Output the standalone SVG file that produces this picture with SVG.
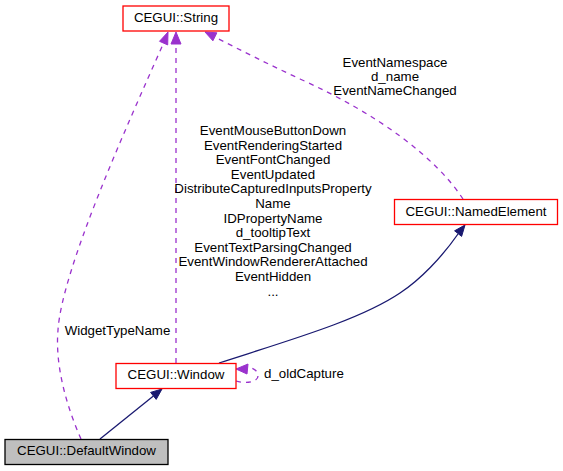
<svg xmlns="http://www.w3.org/2000/svg" width="563" height="471" viewBox="0 0 563 471">
<style>
text{font-family:"Liberation Sans",Arial,Helvetica,sans-serif;font-size:13.3px;fill:#000}
.n rect{fill:#fff;stroke:#ff0000;stroke-width:1.3}
.g rect{fill:#bfbfbf;stroke:#000;stroke-width:1.3}
.d{fill:none;stroke:#9a32cd;stroke-width:1.3;stroke-dasharray:5,5}
.da{fill:#9a32cd;stroke:#9a32cd}
.s{fill:none;stroke:#191970;stroke-width:1.3}
.sa{fill:#191970;stroke:#191970}
.m{text-anchor:middle}
</style>
<rect width="563" height="471" fill="#fff"/>
<g id="connectors">
<path class="s" d="M100,439 L153.4,395.9"/>
<polygon class="sa" points="162,389 156.2,399.4 150.6,392.4"/>
<path class="s" d="M219,363 C290,340 360,320 400,293 C420,280 442,257 458,234"/>
<polygon class="sa" points="465,225 461.6,236.4 454.6,230.8"/>
<path class="d" d="M236,381 C246,384 258,382 258,376 C258,371 254,368 247,367"/>
<polygon class="da" points="236,369 248,364 247,374"/>
<text x="264" y="378">d_oldCapture</text>
<path class="d" d="M176,363 L176,44"/>
<polygon class="da" points="176,32 181,44 171,44"/>
<g class="m">
<text x="273" y="135">EventMouseButtonDown</text>
<text x="273" y="149.6">EventRenderingStarted</text>
<text x="273" y="164.2">EventFontChanged</text>
<text x="273" y="178.8">EventUpdated</text>
<text x="273" y="193.4">DistributeCapturedInputsProperty</text>
<text x="273" y="208">Name</text>
<text x="273" y="222.6">IDPropertyName</text>
<text x="273" y="237.2">d_tooltipText</text>
<text x="273" y="251.8">EventTextParsingChanged</text>
<text x="273" y="266.4">EventWindowRendererAttached</text>
<text x="273" y="281">EventHidden</text>
<text x="273" y="295.6">...</text>
</g>
<path class="d" d="M81,439 C66,405 55,365 58,330 C62,270 125,130 163.6,43"/>
<polygon class="da" points="168,32 167.7,44.9 159.5,41.3"/>
<text x="117.5" y="335" class="m">WidgetTypeName</text>
<path class="d" d="M463,199 C436,158 380,115 300,79 C270,65 240,50 215,37"/>
<polygon class="da" points="205,32 216.9,32.8 212.9,40.8"/>
<g class="m">
<text x="395" y="66.7">EventNamespace</text>
<text x="395" y="80.7">d_name</text>
<text x="395" y="95">EventNameChanged</text>
</g>
</g>
<g id="node-string" class="n">
<rect x="123" y="6" width="106" height="25"/>
<text x="176" y="22" class="m">CEGUI::String</text>
</g>
<g id="node-namedelement" class="n">
<rect x="394.5" y="199.5" width="163" height="25"/>
<text x="476" y="215.5" class="m">CEGUI::NamedElement</text>
</g>
<g id="node-window" class="n">
<rect x="116" y="363.5" width="120" height="25"/>
<text x="176" y="379" class="m">CEGUI::Window</text>
</g>
<g id="node-defaultwindow" class="g">
<rect x="5" y="439.5" width="163" height="25"/>
<text x="86.5" y="455" class="m">CEGUI::DefaultWindow</text>
</g>
</svg>
